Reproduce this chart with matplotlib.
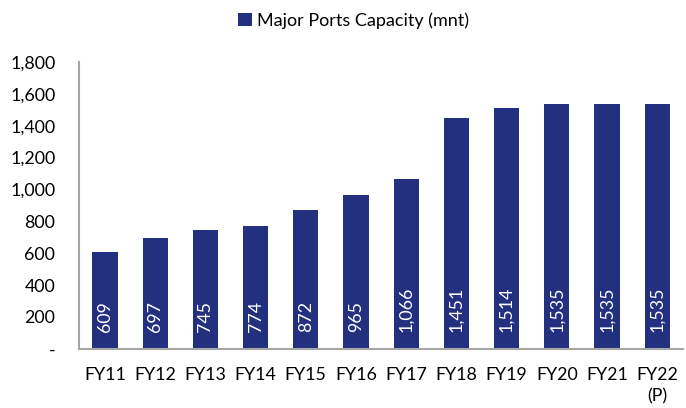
import matplotlib
matplotlib.use("Agg")
import matplotlib.pyplot as plt
from matplotlib.ticker import FuncFormatter

years = ["FY11", "FY12", "FY13", "FY14", "FY15", "FY16", "FY17", "FY18",
         "FY19", "FY20", "FY21", "FY22\n(P)"]
capacity = [609, 697, 745, 774, 872, 965, 1066, 1451, 1514, 1535, 1535, 1535]
series_name = "Major Ports Capacity (mnt)"

bar_color = "#22307F"
plt.rcParams["font.family"] = ["Lato", "DejaVu Sans"]

fig = plt.figure(figsize=(6.86, 4.08), dpi=100)
ax = fig.add_axes([0.115, 0.145, 0.881, 0.703])

x = range(len(years))
bars = ax.bar(x, capacity, width=0.5, color=bar_color, label=series_name, zorder=2)

for xi, v in zip(x, capacity):
    ax.annotate(f"{v:,}", xy=(xi, 0), xytext=(0, 12), textcoords="offset points",
                rotation=90, ha="center", va="bottom", color="white", fontsize=12.8)

ax.set_xlim(-0.52, len(years) - 0.48)
ax.set_ylim(0, 1800)
ax.set_yticks(range(0, 1801, 200))
ax.yaxis.set_major_formatter(FuncFormatter(lambda v, p: "-" if v == 0 else f"{int(v):,}"))
ax.set_xticks(list(x))
ax.set_xticklabels(years, va="top", linespacing=1.45)
ax.tick_params(axis="both", length=0, labelsize=12.8, colors="black")
ax.tick_params(axis="y", pad=17)
ax.tick_params(axis="x", pad=13)

for s in ["top", "right"]:
    ax.spines[s].set_visible(False)
for s in ["left", "bottom"]:
    ax.spines[s].set_color("#A6A6A6")
    ax.spines[s].set_linewidth(1.5)

fig.legend(handles=[bars], labels=[series_name], loc="center", bbox_to_anchor=(0.516, 0.95),
           frameon=False, fontsize=13, handlelength=0.75, handleheight=0.75, handletextpad=0.3)

fig.savefig("out.png", dpi=100)
